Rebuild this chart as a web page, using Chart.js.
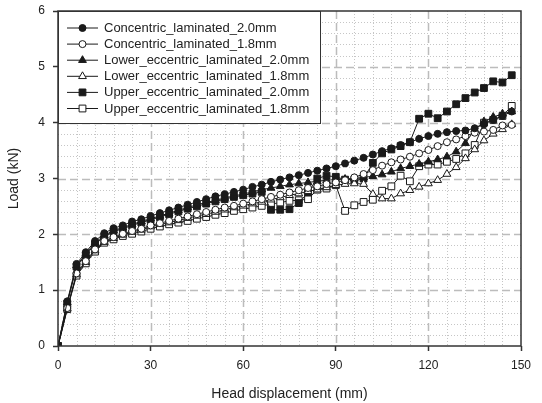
<!DOCTYPE html>
<html>
<head>
<meta charset="utf-8">
<script src="https://cdn.jsdelivr.net/npm/chart.js@4.4.1/dist/chart.umd.min.js"></script>
<style>
  html, body { margin: 0; padding: 0; background: #fff; }
  #wrap { width: 542px; height: 403px; }
</style>
</head>
<body>
<div id="wrap"><canvas id="loadChart" width="542" height="403"></canvas></div>
<script>
// Head displacement (mm), one reading every 3 mm
const displacement = [0, 3, 6, 9, 12, 15, 18, 21, 24, 27, 30, 33, 36, 39, 42, 45, 48, 51, 54, 57,
  60, 63, 66, 69, 72, 75, 78, 81, 84, 87, 90, 93, 96, 99, 102, 105, 108, 111, 114, 117,
  120, 123, 126, 129, 132, 135, 138, 141, 144, 147];

// Load (kN) per specimen
const concentric20 = [0, 0.8, 1.47, 1.68, 1.88, 2.02, 2.11, 2.16, 2.23, 2.27, 2.33, 2.38, 2.43, 2.48, 2.53, 2.58, 2.63, 2.68, 2.72, 2.76,
  2.8, 2.85, 2.89, 2.94, 2.98, 3.02, 3.06, 3.1, 3.14, 3.18, 3.22, 3.27, 3.32, 3.37, 3.43, 3.49, 3.54, 3.6, 3.65, 3.71,
  3.76, 3.8, 3.83, 3.85, 3.86, 3.9, 3.97, 4.05, 4.12, 4.2];
const concentric18 = [0, 0.68, 1.3, 1.52, 1.73, 1.88, 1.95, 2.01, 2.06, 2.1, 2.16, 2.2, 2.24, 2.28, 2.32, 2.36, 2.4, 2.44, 2.48, 2.51,
  2.55, 2.59, 2.63, 2.67, 2.71, 2.75, 2.79, 2.83, 2.86, 2.9, 2.93, 2.97, 3.02, 3.08, 3.15, 3.23, 3.29, 3.34, 3.39, 3.45,
  3.51, 3.58, 3.65, 3.7, 3.76, 3.82, 3.84, 3.87, 3.95, 3.96];
const lowerEcc20 = [0, 0.78, 1.44, 1.65, 1.85, 1.98, 2.07, 2.12, 2.18, 2.23, 2.28, 2.33, 2.38, 2.43, 2.48, 2.53, 2.57, 2.61, 2.65, 2.69,
  2.72, 2.76, 2.8, 2.83, 2.86, 2.89, 2.91, 2.93, 2.95, 2.97, 2.98, 2.99, 3.0, 3.02, 3.04, 3.07, 3.12, 3.18, 3.22, 3.26,
  3.3, 3.34, 3.39, 3.48, 3.63, 3.88, 4.02, 4.1, 4.16, 4.2];
const lowerEcc18 = [0, 0.67, 1.28, 1.5, 1.71, 1.86, 1.93, 1.99, 2.04, 2.08, 2.14, 2.18, 2.21, 2.25, 2.29, 2.33, 2.36, 2.4, 2.44, 2.48,
  2.51, 2.55, 2.58, 2.62, 2.66, 2.7, 2.73, 2.77, 2.8, 2.84, 2.88, 2.9, 2.91, 2.9, 2.72, 2.64, 2.64, 2.73, 2.79, 2.85,
  2.91, 2.97, 3.08, 3.2, 3.36, 3.52, 3.68, 3.8, 3.88, 3.97];
const upperEcc20 = [0, 0.76, 1.42, 1.63, 1.82, 1.96, 2.05, 2.1, 2.16, 2.21, 2.26, 2.31, 2.36, 2.41, 2.46, 2.5, 2.55, 2.59, 2.63, 2.67,
  2.7, 2.73, 2.76, 2.44, 2.44, 2.45, 2.56, 2.75, 3.0, 3.05, 3.03, 2.98, 2.98, 3.0, 3.28, 3.45, 3.52, 3.58, 3.65, 4.07,
  4.16, 4.08, 4.2, 4.33, 4.44, 4.54, 4.62, 4.74, 4.72, 4.85];
const upperEcc18 = [0, 0.66, 1.26, 1.48, 1.69, 1.85, 1.91, 1.97, 2.01, 2.05, 2.1, 2.14, 2.18, 2.21, 2.24, 2.28, 2.31, 2.35, 2.38, 2.42,
  2.45, 2.48, 2.51, 2.54, 2.57, 2.6, 2.61, 2.63, 2.8, 2.82, 2.88, 2.42, 2.52, 2.58, 2.62, 2.78, 2.86, 3.05, 2.95, 3.22,
  3.25, 3.25, 3.3, 3.35, 3.45, 3.6, 4.0, 4.05, 4.12, 4.3];

const seriesNames = ['Concentric_laminated_2.0mm', 'Concentric_laminated_1.8mm',
  'Lower_eccentric_laminated_2.0mm', 'Lower_eccentric_laminated_1.8mm',
  'Upper_eccentric_laminated_2.0mm', 'Upper_eccentric_laminated_1.8mm'];
const seriesValues = [concentric20, concentric18, lowerEcc20, lowerEcc18, upperEcc20, upperEcc18];

const INK = '#1a1a1a';
const markers = [
  { style: 'circle', r: 3.5, fill: INK },
  { style: 'circle', r: 3.5, fill: '#fff' },
  { style: 'triangle', r: 4.5, fill: INK },
  { style: 'triangle', r: 4.5, fill: '#fff' },
  { style: 'rect', r: 4.8, fill: INK },
  { style: 'rect', r: 4.8, fill: '#fff' }
];

const datasets = seriesValues.map((vals, i) => ({
  label: seriesNames[i],
  data: displacement.map((d, j) => ({ x: d, y: vals[j] })),
  borderColor: INK,
  borderWidth: 1,
  tension: 0,
  pointStyle: markers[i].style,
  pointRadius: markers[i].r,
  pointBackgroundColor: markers[i].fill,
  pointBorderColor: INK,
  pointBorderWidth: 1
}));

// draw a marker the same way Chart.js does
function drawMarker(ctx, m, x, y) {
  ctx.beginPath();
  if (m.style === 'circle') {
    ctx.arc(x, y, m.r, 0, Math.PI * 2);
  } else if (m.style === 'triangle') {
    for (let k = 0; k < 3; k++) {
      const a = k * 2 * Math.PI / 3;
      const px = x + Math.sin(a) * m.r, py = y - Math.cos(a) * m.r;
      k ? ctx.lineTo(px, py) : ctx.moveTo(px, py);
    }
    ctx.closePath();
  } else {
    const s = Math.SQRT1_2 * m.r;
    ctx.rect(x - s, y - s, 2 * s, 2 * s);
  }
  ctx.fillStyle = m.fill;
  ctx.fill();
  ctx.stroke();
}

// minor dotted + major dashed grid
const gridPlugin = {
  id: 'grid',
  beforeDatasetsDraw(chart) {
    const { ctx, chartArea: a, scales: { x, y } } = chart;
    ctx.save();
    const vline = v => { const p = Math.round(x.getPixelForValue(v)) + 0.5; ctx.beginPath(); ctx.moveTo(p, a.top); ctx.lineTo(p, a.bottom); ctx.stroke(); };
    const hline = v => { const p = Math.round(y.getPixelForValue(v)) + 0.5; ctx.beginPath(); ctx.moveTo(a.left, p); ctx.lineTo(a.right, p); ctx.stroke(); };
    ctx.strokeStyle = '#c6c6c6';
    ctx.lineWidth = 1;
    ctx.setLineDash([1, 2]);
    for (let i = 1; i < 25; i++) if (i % 5) vline(i * 6);
    for (let i = 1; i < 30; i++) if (i % 5) hline(i / 5);
    ctx.strokeStyle = '#bcbcbc';
    ctx.lineWidth = 1.5;
    ctx.setLineDash([8, 4]);
    for (let v = 30; v < 150; v += 30) vline(v);
    for (let v = 1; v < 6; v++) hline(v);
    ctx.restore();
  },
  afterDatasetsDraw(chart) {
    const { ctx, chartArea: a } = chart;
    ctx.save();
    ctx.strokeStyle = '#333';
    ctx.lineWidth = 1.5;
    ctx.strokeRect(a.left, a.top, a.right - a.left, a.bottom - a.top);
    ctx.restore();
  }
};

// boxed legend inside the top-left corner
const legendPlugin = {
  id: 'boxLegend',
  afterDraw(chart) {
    const { ctx, chartArea: a } = chart;
    ctx.save();
    ctx.fillStyle = '#fff';
    ctx.fillRect(a.left, a.top, 262, 112);
    ctx.strokeStyle = '#333';
    ctx.lineWidth = 1;
    ctx.strokeRect(a.left + 0.5, a.top + 0.5, 262, 112);
    ctx.font = '13px "Liberation Sans", Arial, sans-serif';
    ctx.textBaseline = 'middle';
    seriesNames.forEach((name, i) => {
      const yy = a.top + 17 + i * 16.1;
      ctx.strokeStyle = INK;
      ctx.lineWidth = 1;
      ctx.beginPath();
      ctx.moveTo(a.left + 9, yy);
      ctx.lineTo(a.left + 40, yy);
      ctx.stroke();
      drawMarker(ctx, markers[i], a.left + 24.5, yy);
      ctx.fillStyle = '#222';
      ctx.fillText(name, a.left + 46, yy + 0.5);
    });
    ctx.restore();
  }
};

const tickFont = { family: '"Liberation Sans", Arial, sans-serif', size: 12 };
const titleFont = { family: '"Liberation Sans", Arial, sans-serif', size: 14 };

new Chart(document.getElementById('loadChart'), {
  type: 'line',
  data: { datasets },
  options: {
    responsive: false,
    devicePixelRatio: 1,
    animation: false,
    layout: { padding: { top: 11, right: 21, left: 0, bottom: 0 } },
    plugins: { legend: { display: false }, tooltip: { enabled: false } },
    scales: {
      x: {
        type: 'linear',
        min: 0,
        max: 150,
        ticks: { stepSize: 30, font: tickFont, color: '#222', padding: 7, maxRotation: 0 },
        grid: { drawOnChartArea: false, drawTicks: true, tickLength: 5, tickColor: '#333', tickWidth: 1.5 },
        border: { display: false },
        title: { display: true, text: 'Head displacement (mm)', font: titleFont, color: '#222', padding: { top: 4, bottom: 0 } },
        afterFit: s => { s.height = 57; }
      },
      y: {
        min: 0,
        max: 6,
        ticks: { stepSize: 1, font: tickFont, color: '#222', padding: 8 },
        grid: { drawOnChartArea: false, drawTicks: true, tickLength: 5, tickColor: '#333', tickWidth: 1.5 },
        border: { display: false },
        title: { display: true, text: 'Load (kN)', font: titleFont, color: '#222', padding: { top: 6, bottom: 0 } },
        afterFit: s => { s.width = 58; s.paddingTop = 0; s.paddingBottom = 0; }
      }
    }
  },
  plugins: [gridPlugin, legendPlugin]
});
</script>
</body>
</html>
